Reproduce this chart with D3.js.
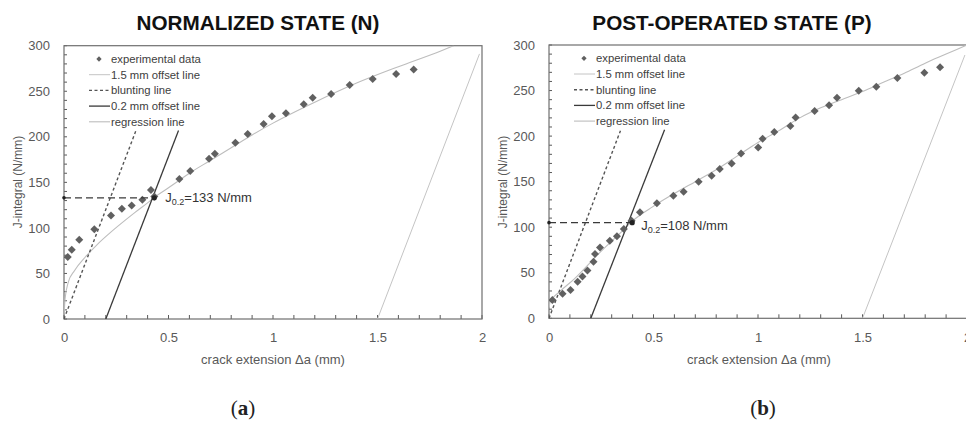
<!DOCTYPE html>
<html><head><meta charset="utf-8">
<script src="https://cdn.jsdelivr.net/npm/d3@7"></script>
<style>body{margin:0;background:#fff}svg{display:block}</style>
</head><body><svg id="c" width="966" height="429"></svg>
<script>
// ---------- data ----------
const xTickValues = [0, 0.5, 1, 1.5, 2];
const xTickLabels = ["0", "0.5", "1", "1.5", "2"];
const yTickValues = [0, 50, 100, 150, 200, 250, 300];
const legendLabels = ["experimental data", "1.5 mm offset line", "blunting line", "0.2 mm offset line", "regression line"];
const panelTitles = ["NORMALIZED STATE (N)", "POST-OPERATED STATE (P)"];
const panelCaptions = ["a", "b"];
const xAxisTitle = "crack extension \u0394a (mm)";
const yAxisTitle = "J-integral (N/mm)";

// Normalized state (N)
const normExpDa = [0.018, 0.037, 0.073, 0.145, 0.225, 0.277, 0.324, 0.375, 0.416, 0.432, 0.552, 0.604, 0.694, 0.722, 0.82, 0.879, 0.955, 0.995, 1.062, 1.147, 1.19, 1.278, 1.367, 1.477, 1.589, 1.673];
const normExpJ  = [68, 76, 87, 98.5, 113.5, 121, 124.5, 131, 141.6, 134.5, 153.7, 162.5, 176, 181.5, 193.6, 203, 214, 222.5, 225.8, 235.7, 243, 247, 256.8, 263.4, 269, 274];
const normRegDa = [0.001, 0.005, 0.02, 0.05, 0.1, 0.16, 0.22, 0.28, 0.34, 0.4, 0.435, 0.5, 0.55, 0.6, 0.7, 0.8, 0.9, 1.0, 1.2, 1.4, 1.6, 1.8, 1.865];
const normRegJ  = [6, 22, 40, 53, 67.5, 82, 94.5, 106, 117, 127.5, 134, 144, 152, 160, 174, 188, 202, 215, 238, 259, 277, 294, 300];
const normBluntDa = [0, 0.343];   const normBluntJ = [0, 206];
const normOff02Da = [0.2, 0.548]; const normOff02J = [0, 207];
const normOff15Da = [1.5, 1.988]; const normOff15J = [0, 291];
const normJ02Da = 0.432, normJ02Line = 133, normJ02Label = "133";

// Post-operated state (P)
const postExpDa = [0.016, 0.065, 0.103, 0.137, 0.16, 0.184, 0.213, 0.22, 0.244, 0.291, 0.325, 0.358, 0.395, 0.435, 0.516, 0.595, 0.644, 0.716, 0.778, 0.817, 0.874, 0.919, 1.001, 1.022, 1.078, 1.155, 1.18, 1.271, 1.34, 1.378, 1.482, 1.566, 1.667, 1.796, 1.871];
const postExpJ  = [20, 27, 31, 40, 45.8, 52.4, 62.2, 70.7, 77.8, 85.2, 90, 98, 107, 116.5, 126.2, 134.6, 139, 150, 156.6, 164, 170, 181, 187.6, 197.1, 204.4, 211, 220.5, 227.5, 233.8, 242.2, 249.9, 254.3, 263.8, 269.6, 275.5];
const postRegDa = [0.001, 0.005, 0.05, 0.12, 0.18, 0.22, 0.26, 0.32, 0.36, 0.4, 0.44, 0.48, 0.52, 0.6, 0.7, 0.8, 0.9, 1.0, 1.1, 1.2, 1.3, 1.4, 1.5, 1.6, 1.7, 1.8, 1.9, 2.0];
const postRegJ  = [12, 18, 29, 43, 57, 67, 76, 89, 98, 107, 114, 120, 126, 137, 150, 163, 178, 193, 206, 220, 231, 240, 249, 259, 269, 280, 290, 300];
const postBluntDa = [0, 0.342];   const postBluntJ = [0, 206];
const postOff02Da = [0.2, 0.553]; const postOff02J = [0, 207];
const postOff15Da = [1.5, 1.99];  const postOff15J = [0, 289];
const postJ02Da = 0.398, postJ02Line = 105, postJ02Label = "108";

// ---------- layout ----------
const panels = [
  {x0: 64, x1: 482, yb: 319, yt: 45.7, titleX: 258, capX: 243, xTitleX: 273, yTitleX: 18,
   exp: [normExpDa, normExpJ], reg: [normRegDa, normRegJ], blunt: [normBluntDa, normBluntJ],
   off02: [normOff02Da, normOff02J], off15: [normOff15Da, normOff15J],
   j02: [normJ02Da, normJ02Line, normJ02Label], j02LabelDx: 11, j02LabelDy: 4},
  {x0: 549, x1: 967, yb: 318.3, yt: 45, titleX: 732, capX: 763, xTitleX: 759, yTitleX: 503,
   exp: [postExpDa, postExpJ], reg: [postRegDa, postRegJ], blunt: [postBluntDa, postBluntJ],
   off02: [postOff02Da, postOff02J], off15: [postOff15Da, postOff15J],
   j02: [postJ02Da, postJ02Line, postJ02Label], j02LabelDx: 9, j02LabelDy: 7}
];

const svg = d3.select("#c");
const FONT = "'Liberation Sans', Arial, sans-serif";
const toPts = (a) => a[0].map((d, i) => [d, a[1][i]]);

panels.forEach((p, pi) => {
  const x = d3.scaleLinear().domain([0, 2]).range([p.x0, p.x1]);
  const y = d3.scaleLinear().domain([0, 300]).range([p.yb, p.yt]);
  const g = svg.append("g");

  // title
  g.append("text").attr("x", p.titleX).attr("y", 30).attr("text-anchor", "middle")
    .attr("font-family", FONT).attr("font-weight", "bold").attr("font-size", 20.7)
    .attr("fill", "#111").text(panelTitles[pi]);

  // caption
  const cap = g.append("text").attr("x", p.capX).attr("y", 415).attr("text-anchor", "middle")
    .attr("font-family", "'Liberation Serif', 'DejaVu Serif', serif").attr("font-size", 21).attr("fill", "#222");
  cap.append("tspan").text("(");
  cap.append("tspan").attr("font-weight", "bold").text(panelCaptions[pi]);
  cap.append("tspan").text(")");

  // minor ticks (inward)
  const xMinor = d3.range(0, 21).map(i => i / 10);
  const yMinor = d3.range(0, 31).map(i => i * 10);
  g.selectAll(null).data(xMinor).enter().append("line")
    .attr("x1", d => x(d)).attr("x2", d => x(d)).attr("y1", p.yb).attr("y2", p.yb - 4)
    .attr("stroke", "#595959").attr("stroke-width", 1);
  g.selectAll(null).data(yMinor).enter().append("line")
    .attr("y1", d => y(d)).attr("y2", d => y(d)).attr("x1", p.x0).attr("x2", p.x0 + 3)
    .attr("stroke", "#595959").attr("stroke-width", 1);

  // frame
  g.append("rect").attr("x", p.x0).attr("y", p.yt).attr("width", p.x1 - p.x0).attr("height", p.yb - p.yt)
    .attr("fill", "none").attr("stroke", "#6f6f6f").attr("stroke-width", 1.2);

  // tick labels via axes
  const xa = d3.axisBottom(x).tickValues(xTickValues).tickFormat((d, i) => xTickLabels[i]).tickSize(0).tickPadding(14);
  const ya = d3.axisLeft(y).tickValues(yTickValues).tickSize(0).tickPadding(14);
  const gx = g.append("g").attr("transform", `translate(0,${p.yb})`).call(xa);
  const gy = g.append("g").attr("transform", `translate(${p.x0},0)`).call(ya);
  [gx, gy].forEach(a => {
    a.select(".domain").remove();
    a.selectAll("text").attr("font-family", FONT).attr("font-size", 13).attr("fill", "#595959");
  });

  // axis titles
  g.append("text").attr("x", p.xTitleX).attr("y", 364).attr("text-anchor", "middle")
    .attr("font-family", FONT).attr("font-size", 13).attr("fill", "#595959").text(xAxisTitle);
  g.append("text").attr("transform", `translate(${p.yTitleX + 4},182) rotate(-90)`).attr("text-anchor", "middle")
    .attr("font-family", FONT).attr("font-size", 12).attr("fill", "#595959").text(yAxisTitle);

  const line = d3.line().x(d => x(d[0])).y(d => y(d[1]));
  const curve = d3.line().x(d => x(d[0])).y(d => y(d[1])).curve(d3.curveMonotoneX);

  // plot clip
  const clipId = "clip" + pi;
  svg.append("clipPath").attr("id", clipId).append("rect")
    .attr("x", p.x0).attr("y", p.yt).attr("width", p.x1 - p.x0).attr("height", p.yb - p.yt);
  const pg = g.append("g").attr("clip-path", `url(#${clipId})`);

  // 1.5 mm offset line
  pg.append("path").datum(toPts(p.off15)).attr("d", line).attr("fill", "none")
    .attr("stroke", "#c4c4c4").attr("stroke-width", 1);
  // regression line
  pg.append("path").datum(toPts(p.reg)).attr("d", curve).attr("fill", "none")
    .attr("stroke", "#bdbdbd").attr("stroke-width", 1.1);
  // blunting line
  pg.append("path").datum(toPts(p.blunt)).attr("d", line).attr("fill", "none")
    .attr("stroke", "#555").attr("stroke-width", 1.4).attr("stroke-dasharray", "3,2.5");
  // 0.2 mm offset line
  pg.append("path").datum(toPts(p.off02)).attr("d", line).attr("fill", "none")
    .attr("stroke", "#3a3a3a").attr("stroke-width", 1.3);

  // diamonds
  const diamond = d3.symbol().type(d3.symbolSquare).size(32)();
  pg.selectAll(null).data(toPts(p.exp)).enter().append("path")
    .attr("d", diamond)
    .attr("transform", d => `translate(${x(d[0])},${y(d[1])}) rotate(45)`)
    .attr("fill", "#606060");

  // J0.2 construction
  const [jx, jv, jl] = p.j02;
  g.append("line").attr("x1", x(0)).attr("x2", x(jx)).attr("y1", y(jv)).attr("y2", y(jv))
    .attr("stroke", "#3a3a3a").attr("stroke-width", 1.2).attr("stroke-dasharray", "7,4");
  g.append("circle").attr("cx", x(0)).attr("cy", y(jv)).attr("r", 1.8).attr("fill", "#222");
  g.append("circle").attr("cx", x(jx)).attr("cy", y(jv)).attr("r", 2.6).attr("fill", "#222");
  const lab = g.append("text").attr("x", x(jx) + p.j02LabelDx).attr("y", y(jv) + p.j02LabelDy)
    .attr("font-family", FONT).attr("font-size", 13).attr("fill", "#333");
  lab.append("tspan").text("J");
  lab.append("tspan").attr("font-size", 9).attr("dy", 3).text("0.2");
  lab.append("tspan").attr("dy", -3).text("=" + jl + " N/mm");

  // legend
  const lx = p.x0, ly = p.yt + 13.3;
  legendLabels.forEach((t, i) => {
    const yy = ly + i * 15.7;
    if (i === 0) {
      g.append("path").attr("d", d3.symbol().type(d3.symbolSquare).size(14)())
        .attr("transform", `translate(${lx + 35},${yy}) rotate(45)`).attr("fill", "#606060");
    } else {
      const st = [null, {c: "#c4c4c4", w: 1, da: null}, {c: "#555", w: 1.4, da: "3,2.5"},
                  {c: "#3a3a3a", w: 1.3, da: null}, {c: "#bdbdbd", w: 1.1, da: null}][i];
      g.append("line").attr("x1", lx + 25).attr("x2", lx + 46).attr("y1", yy).attr("y2", yy)
        .attr("stroke", st.c).attr("stroke-width", st.w).attr("stroke-dasharray", st.da);
    }
    g.append("text").attr("x", lx + 47).attr("y", yy + 4).attr("font-family", FONT)
      .attr("font-size", 11.3).attr("fill", "#404040").text(t);
  });
});
</script></body></html>
